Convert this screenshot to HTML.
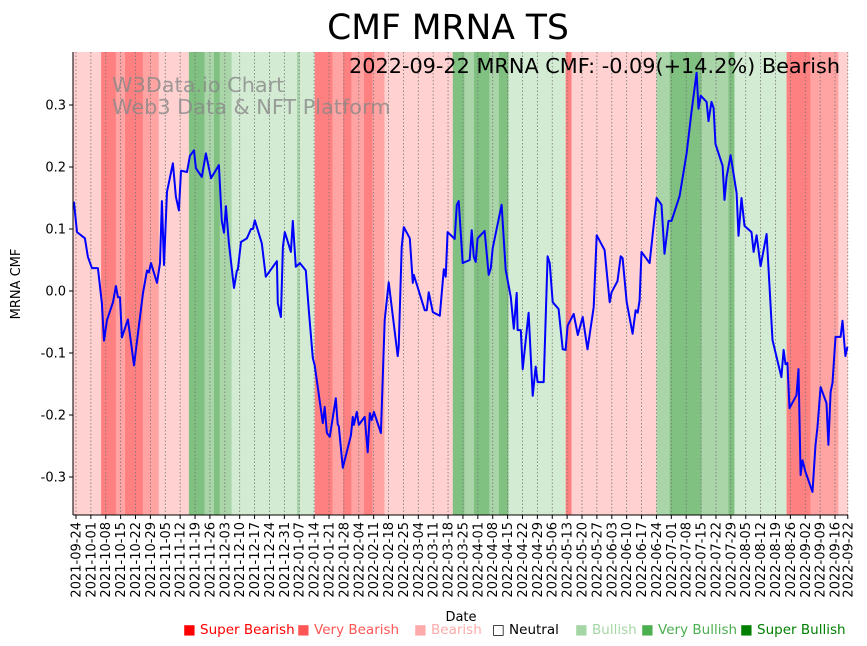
<!DOCTYPE html>
<html><head><meta charset="utf-8"><style>
body{margin:0;background:#fff;}
svg{display:block;font-family:"DejaVu Sans","Liberation Sans",sans-serif;}
</style></head><body>
<svg id="chart" width="867" height="646" viewBox="0 0 867 646" xmlns="http://www.w3.org/2000/svg">
<rect width="867" height="646" fill="#fff"/>
<g id="bands"></g>
<g id="grid"></g>
<text x="112" y="92" font-size="20.8" fill="#888" fill-opacity="0.8">W3Data.io Chart</text>
<text x="112" y="114" font-size="20.8" fill="#888" fill-opacity="0.8">Web3 Data &amp; NFT Platform</text>
<g id="series"></g>
<g id="axes"></g>
<text x="448" y="39" font-size="34.5" text-anchor="middle">CMF MRNA TS</text>
<text x="840" y="73" font-size="20.8" text-anchor="end">2022-09-22 MRNA CMF: -0.09(+14.2%) Bearish</text>
<text transform="translate(20,284) rotate(-90)" font-size="13" text-anchor="middle">MRNA CMF</text>
<text x="461" y="621" font-size="13" text-anchor="middle">Date</text>
<g id="legend" font-size="13.5"></g>
</svg>
<script>
// data: day offsets from 2021-09-24 and CMF values
const days=[-1,0.5,4.2,5.6,7.5,10.3,12.2,13.2,14.6,17.4,18.8,19.7,20.7,21.6,24.4,25.9,27.3,31.5,33.4,34.3,35.3,38.1,39.5,40.4,41.4,42.8,45.6,47.0,48.4,49.4,52.2,53.6,55.5,56.4,59.2,61.1,63.5,67.2,68.6,69.6,70.5,71.9,74.3,75.7,76.1,77.6,80.4,82.3,83.2,84.1,87.4,89.3,94.5,94.9,96.4,97.3,98.2,101.1,102.0,103.4,105.3,108.1,109.5,111.4,112.3,116.1,117.0,118.0,119.4,122.2,123.1,123.6,125.5,129.3,130.2,130.7,132.1,133.0,135.8,137.2,138.2,139.1,140.1,143.4,145.2,147.1,151.3,151.8,153.2,154.2,157.0,158.4,158.9,160.7,164.0,165.0,165.9,167.8,171.1,173.0,173.9,174.8,178.1,179.1,180.0,181.9,185.2,186.1,187.1,188.0,188.9,192.2,194.1,195.1,196.0,200.2,202.1,204.5,205.9,207.3,207.7,209.2,210.1,212.9,214.8,216.2,217.1,220.0,221.8,222.8,224.2,227.0,228.9,230.3,231.2,234.1,236.0,238.3,240.6,243.5,244.9,248.6,251.0,251.9,254.7,256.2,257.1,259.0,261.8,263.2,264.2,265.1,266.0,269.8,273.1,275.4,276.8,278.7,280.1,283.9,287.2,289.5,291.9,292.8,293.8,296.6,297.5,298.9,299.9,300.8,304.1,305.0,306.0,307.9,310.7,311.6,313.0,314.4,317.7,318.7,320.1,322.0,324.8,327.6,331.8,332.8,333.7,334.6,335.6,338.9,339.8,340.8,341.7,343.1,346.4,347.8,348.7,350.2,353.0,353.9,354.9,355.8,357.2,359.6,360.5,361.9,362.8];
const cmf=[0.144,0.095,0.085,0.055,0.037,0.037,-0.02,-0.08,-0.047,-0.018,0.008,-0.01,-0.01,-0.075,-0.046,-0.083,-0.12,-0.003,0.033,0.03,0.045,0.013,0.045,0.145,0.042,0.16,0.206,0.152,0.13,0.194,0.192,0.218,0.227,0.198,0.184,0.222,0.182,0.203,0.113,0.094,0.137,0.077,0.005,0.033,0.034,0.079,0.085,0.1,0.1,0.114,0.077,0.023,0.048,-0.02,-0.042,0.071,0.095,0.063,0.113,0.039,0.045,0.033,-0.031,-0.108,-0.12,-0.213,-0.187,-0.229,-0.235,-0.173,-0.215,-0.218,-0.285,-0.233,-0.203,-0.216,-0.195,-0.216,-0.203,-0.26,-0.197,-0.208,-0.195,-0.229,-0.047,0.014,-0.105,-0.09,0.071,0.103,0.085,0.013,0.026,0.006,-0.031,-0.031,-0.002,-0.034,-0.04,0.035,0.023,0.095,0.084,0.139,0.145,0.045,0.05,0.098,0.055,0.047,0.085,0.097,0.026,0.037,0.069,0.139,0.034,-0.01,-0.061,-0.003,-0.063,-0.063,-0.126,-0.035,-0.169,-0.122,-0.147,-0.147,0.056,0.045,-0.018,-0.029,-0.094,-0.095,-0.056,-0.037,-0.071,-0.042,-0.094,-0.026,0.09,0.066,-0.018,-0.002,0.016,0.056,0.053,-0.018,-0.069,-0.031,-0.035,-0.015,0.063,0.045,0.15,0.139,0.06,0.113,0.113,0.153,0.222,0.289,0.352,0.294,0.315,0.305,0.274,0.305,0.295,0.237,0.202,0.147,0.184,0.219,0.158,0.089,0.15,0.105,0.095,0.063,0.09,0.04,0.092,-0.079,-0.139,-0.095,-0.118,-0.116,-0.189,-0.168,-0.126,-0.297,-0.273,-0.292,-0.324,-0.248,-0.221,-0.155,-0.181,-0.248,-0.163,-0.148,-0.074,-0.074,-0.048,-0.105,-0.09];
// sentiment bands: start day, end day, category (-3..3)
const bandStart=[-2,11.8,18.8,23.0,31.5,39.0,53.1,60.6,64.9,67.7,73.3,103.9,105.3,112.3,120.8,125.5,129.7,135.4,139.6,145.2,177.2,182.8,187.1,194.6,198.8,203.5,230.3,233.1,273.1,279.2,294.2,306.9,309.7,334.2,345.5,358.6];
const bandEnd=[11.8,18.8,23.0,31.5,39.0,53.1,60.6,64.9,67.7,73.3,103.9,105.3,112.3,120.8,125.5,129.7,135.4,139.6,145.2,177.2,182.8,187.1,194.6,198.8,203.5,230.3,233.1,273.1,279.2,294.2,306.9,309.7,334.2,345.5,358.6,364];
const bandCat=[-1,-3,-2,-3,-2,-1,3,2,3,2,1,2,1,-3,-2,-3,-2,-3,-2,-1,3,2,3,2,3,1,-3,-1,2,3,2,3,1,-3,-2,-1];
const yTicks=[-0.3,-0.2,-0.1,0.0,0.1,0.2,0.3];
const tickDays=[];for(let d=0;d<=357;d+=7)tickDays.push(d);tickDays.push(363);
const legendLabels=["Super Bearish","Very Bearish","Bearish","Neutral","Bullish","Very Bullish","Super Bullish"];
const legendColors=["#ff0000","#ff5555","#ffaaaa","#000000","#a5d6a5","#4caf50","#008000"];

const L=73,R=848,T=52,B=515,D0=-1.4,D1=363.1,V0=-0.3613,V1=0.3855;
const xs=d=>L+(d-D0)/(D1-D0)*(R-L);
const ys=v=>B-(v-V0)/(V1-V0)*(B-T);
const NS="http://www.w3.org/2000/svg";
function mk(tag,attrs,parent){const e=document.createElementNS(NS,tag);for(const k in attrs)e.setAttribute(k,attrs[k]);parent.appendChild(e);return e;}
const bandColor={"-3":"#ff8080","-2":"#ffa3a3","-1":"#ffd1d1","0":"#ffffff","1":"#d3ebd3","2":"#a9d5a9","3":"#80c080"};
const gB=document.getElementById('bands');
bandStart.forEach((s,i)=>{
  const x0=Math.max(L,xs(s)),x1=Math.min(R,xs(bandEnd[i]));
  const r=mk('rect',{x:x0,y:T,width:Math.max(0,x1-x0),height:B-T,fill:bandColor[bandCat[i]]},gB);
  
  
});
const gG=document.getElementById('grid');
tickDays.forEach(d=>{
  const l=mk('line',{x1:xs(d),x2:xs(d),y1:T,y2:B,stroke:'#777',"stroke-width":0.8,"stroke-dasharray":"1.5,2"},gG);
  
  
});
const gS=document.getElementById('series');
const pts=days.map((d,i)=>xs(d).toFixed(1)+','+ys(cmf[i]).toFixed(1)).join(' ');
const pl=mk('polyline',{points:pts,fill:'none',stroke:'#0000ff',"stroke-width":2,"stroke-linejoin":"round"},gS);


const gA=document.getElementById('axes');
mk('line',{x1:L,x2:L,y1:T,y2:B,stroke:'#000',"stroke-width":1},gA);
mk('line',{x1:L,x2:R,y1:B,y2:B,stroke:'#000',"stroke-width":1},gA);
yTicks.forEach(v=>{
  mk('line',{x1:L-4,x2:L,y1:ys(v),y2:ys(v),stroke:'#000'},gA);
  const t=mk('text',{x:L-7,y:ys(v)+4.5,"font-size":13,"text-anchor":"end"},gA);
  t.textContent=v.toFixed(1);
  
  
});
const base=new Date(Date.UTC(2021,8,24));
tickDays.forEach(d=>{
  const x=xs(d);
  mk('line',{x1:x,x2:x,y1:B,y2:B+4,stroke:'#000'},gA);
  const dt=new Date(base.getTime()+d*86400000).toISOString().slice(0,10);
  const t=mk('text',{transform:`translate(${x+4.5},${B+7}) rotate(-90)`,"font-size":13,"text-anchor":"end"},gA);
  t.textContent=dt;
  
  
});
const gL=document.getElementById('legend');
const lx=[183,297,414,492,575,641,740];
legendLabels.forEach((lab,i)=>{
  const t=mk('text',{x:lx[i],y:634,fill:legendColors[i]},gL);
  t.textContent=(i===3?'□ ':'■ ')+lab;
  
  
});
</script>
</body></html>
